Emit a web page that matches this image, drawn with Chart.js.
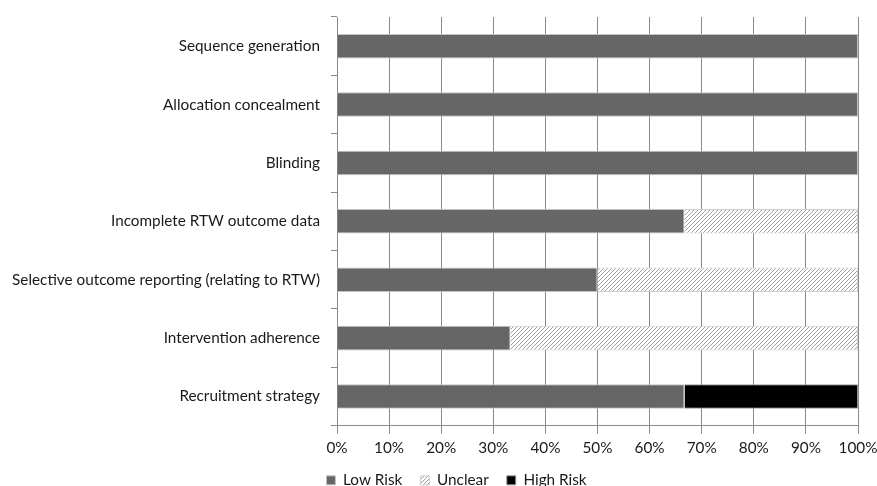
<!DOCTYPE html>
<html>
<head>
<meta charset="utf-8">
<script src="https://cdn.jsdelivr.net/npm/chart.js@4"></script>
<style>
  html, body { margin: 0; padding: 0; background: #fff; overflow: hidden; }
  #wrap { width: 877px; height: 501px; }
</style>
</head>
<body>
<div id="wrap"><canvas id="riskChart" width="877" height="501"></canvas></div>
<script>
const categories = [
  "Sequence generation",
  "Allocation concealment",
  "Blinding",
  "Incomplete RTW outcome data",
  "Selective outcome reporting (relating to RTW)",
  "Intervention adherence",
  "Recruitment strategy"
];
const lowRisk = [100, 100, 100, 66.7, 50, 33.3, 66.7];
const unclear = [0, 0, 0, 33.3, 50, 66.7, 0];
const highRisk = [0, 0, 0, 0, 0, 0, 33.3];

// diagonal hatch for "Unclear"
function makeHatch() {
  const c = document.createElement("canvas");
  c.width = 4;
  c.height = 4;
  const g = c.getContext("2d");
  g.fillStyle = "#ffffff";
  g.fillRect(0, 0, 4, 4);
  g.strokeStyle = "#a0a0a0";
  g.lineWidth = 1;
  g.beginPath();
  g.moveTo(0, 4);
  g.lineTo(4, 0);
  g.moveTo(-1, 1);
  g.lineTo(1, -1);
  g.moveTo(3, 5);
  g.lineTo(5, 3);
  g.stroke();
  return g.createPattern(c, "repeat");
}

// the legend sits a little right of the page centre
const legendShift = {
  id: "legendShift",
  afterLayout(chart) {
    chart.legend.left += 18;
    chart.legend.right += 18;
  }
};

const ctx = document.getElementById("riskChart").getContext("2d");
const hatch = makeHatch();
const font = { family: "Lato, 'Open Sans', sans-serif", size: 15.3 };

new Chart(ctx, {
  type: "bar",
  data: {
    labels: categories,
    datasets: [
      { label: "Low Risk", data: lowRisk, backgroundColor: "#666666", borderColor: "#c4c4c4", borderWidth: 1 },
      { label: "Unclear", data: unclear, backgroundColor: hatch, borderColor: "#cfcfcf", borderWidth: 1 },
      { label: "High Risk", data: highRisk, backgroundColor: "#000000", borderColor: "#9a9a9a", borderWidth: 1 }
    ]
  },
  options: {
    indexAxis: "y",
    responsive: false,
    animation: false,
    layout: { padding: { top: 17, right: 0, bottom: 3, left: 0 } },
    datasets: { bar: { barPercentage: 0.42, categoryPercentage: 1 } },
    scales: {
      x: {
        stacked: true,
        min: 0,
        max: 100,
        ticks: {
          stepSize: 10,
          padding: 5,
          color: "#1a1a1a",
          font: font,
          callback: (v) => v + "%"
        },
        grid: { color: "#8a8a8a", lineWidth: 1, tickLength: 8 },
        border: { color: "#8a8a8a" },
        afterFit: (scale) => {
          scale.height = 29;
          scale.paddingRight = 19;
        }
      },
      y: {
        stacked: true,
        ticks: { color: "#1a1a1a", font: font, padding: 11 },
        grid: { drawOnChartArea: false, color: "#8a8a8a", tickLength: 6, offset: true },
        border: { color: "#8a8a8a" },
        afterFit: (scale) => {
          scale.width = 337;
          scale.paddingTop = 0;
          scale.paddingBottom = 0;
        }
      }
    },
    plugins: {
      legend: {
        position: "bottom",
        labels: { boxWidth: 9, boxHeight: 9, padding: 18, color: "#1a1a1a", font: font }
      },
      tooltip: { enabled: false }
    }
  },
  plugins: [legendShift]
});
</script>
</body>
</html>
